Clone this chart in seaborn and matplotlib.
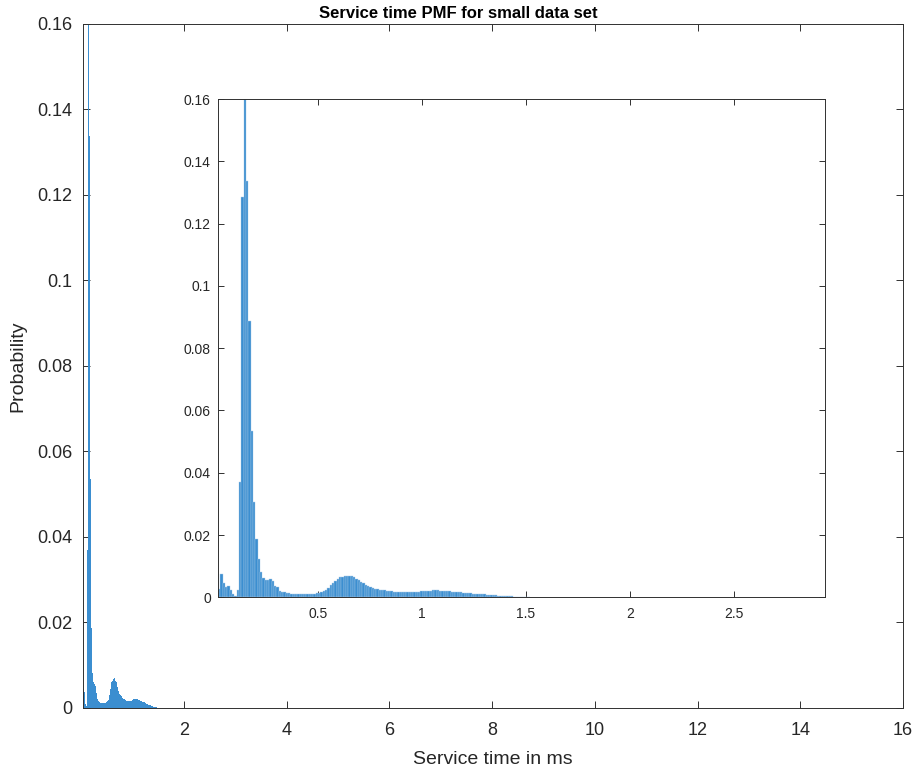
import numpy as np
import pandas as pd
import matplotlib
matplotlib.use("Agg")
import matplotlib.pyplot as plt
import seaborn as sns

# ---- data ----
bin_start = 0.017      # ms, left edge of first bin
bin_width = 0.0112     # ms
probability = [
    0.0027, 0.0074, 0.0045, 0.0034, 0.0037, 0.0023, 0.0010, 0.0004, 0.0023, 0.0370,
    0.1285, 0.1600, 0.1338, 0.0887, 0.0535, 0.0306, 0.0186, 0.0122, 0.0082, 0.0061,
    0.0055, 0.0055, 0.0058, 0.0052, 0.0036, 0.0034, 0.0020, 0.0018, 0.0016, 0.0014,
    0.0013, 0.0012, 0.0012, 0.0011, 0.0011, 0.0011, 0.0010, 0.0011, 0.0011, 0.0012,
    0.0011, 0.0012, 0.0013, 0.0013, 0.0016, 0.0019, 0.0024, 0.0030, 0.0038, 0.0045,
    0.0053, 0.0060, 0.0064, 0.0066, 0.0067, 0.0068, 0.0069, 0.0067, 0.0064, 0.0060,
    0.0055, 0.0050, 0.0045, 0.0040, 0.0036, 0.0032, 0.0030, 0.0028, 0.0027, 0.0025,
    0.0024, 0.0022, 0.0021, 0.0020, 0.0019, 0.0018, 0.0018, 0.0017, 0.0017, 0.0016,
    0.0016, 0.0016, 0.0016, 0.0016, 0.0017, 0.0017, 0.0018, 0.0019, 0.0020, 0.0020,
    0.0021, 0.0021, 0.0022, 0.0022, 0.0022, 0.0021, 0.0021, 0.0020, 0.0019, 0.0019,
    0.0018, 0.0017, 0.0017, 0.0016, 0.0016, 0.0015, 0.0014, 0.0014, 0.0013, 0.0012,
    0.0012, 0.0011, 0.0010, 0.0010, 0.0009, 0.0008, 0.0008, 0.0007, 0.0006, 0.0006,
    0.0005, 0.0005, 0.0004, 0.0004, 0.0003, 0.0003, 0.0003, 0.0002, 0.0002, 0.0002,
    0.0001, 0.0001, 0.0001, 0.00005,
]
main_xticks = [2, 4, 6, 8, 10, 12, 14, 16]
main_yticks = [0, 0.02, 0.04, 0.06, 0.08, 0.1, 0.12, 0.14, 0.16]
inset_xticks = [0.5, 1, 1.5, 2, 2.5]
inset_yticks = [0, 0.02, 0.04, 0.06, 0.08, 0.1, 0.12, 0.14, 0.16]
title = "Service time PMF for small data set"
xlabel = "Service time in ms"
ylabel = "Probability"

n = len(probability)
bin_end = bin_start + n * bin_width
centers = bin_start + bin_width * (np.arange(n) + 0.5)
df = pd.DataFrame({"t": centers, "p": probability})

sns.set_theme(style="white")
plt.rcParams['font.family'] = ['Liberation Sans', 'DejaVu Sans']

BAR = "#3b8ed0"
AX = "#303030"
TXT = "#262626"

fig = plt.figure(figsize=(9.17, 7.73), dpi=100)


def fmt(v):
    return f"{v:g}"


def style(ax, xt, yt, fs, tl, xpad, ypad):
    for sp in ax.spines.values():
        sp.set_visible(True)
        sp.set_color(AX)
        sp.set_linewidth(0.7)
    ax.set_xticks(xt)
    ax.set_xticklabels([fmt(v) for v in xt])
    ax.set_yticks(yt)
    ax.set_yticklabels([fmt(v) for v in yt])
    ax.tick_params(direction="in", top=True, right=True, bottom=True, left=True,
                   length=tl, width=0.7, color=AX, labelsize=fs, labelcolor=TXT)
    ax.tick_params(axis="x", pad=xpad)
    ax.tick_params(axis="y", pad=ypad)
    ax.set_facecolor("white")


# main axes
ax = fig.add_axes([0.0902, 0.0841, 0.8945, 0.8849])
sns.histplot(data=df, x="t", weights="p", bins=n, binrange=(bin_start, bin_end),
             ax=ax, color=BAR, alpha=1.0, linewidth=0, stat="count", element="bars")
ax.set_xlim(0.03, 16)
ax.set_ylim(0, 0.16)
style(ax, main_xticks, main_yticks, 13, 5, 10, 7.5)
ax.set_xlabel(xlabel, fontsize=14, color=TXT, labelpad=9)
ax.set_ylabel(ylabel, fontsize=14, color=TXT, labelpad=8)
fig.text(0.5, 1 - 13 / 773, title, ha="center", va="center", fontsize=12,
         fontweight="bold", color="black")

# inset axes
ins = fig.add_axes([0.2374, 0.2273, 0.6623, 0.6446])
sns.histplot(data=df, x="t", weights="p", bins=n, binrange=(bin_start, bin_end),
             ax=ins, color=BAR, alpha=1.0, linewidth=0.3, edgecolor="#a9cbe8",
             stat="count", element="bars")
ins.set_xlim(0.015, 2.94)
ins.set_ylim(0, 0.16)
style(ins, inset_xticks, inset_yticks, 10, 4.5, 7, 5)
ins.set_xlabel("")
ins.set_ylabel("")

fig.savefig("out.png", dpi=100)
